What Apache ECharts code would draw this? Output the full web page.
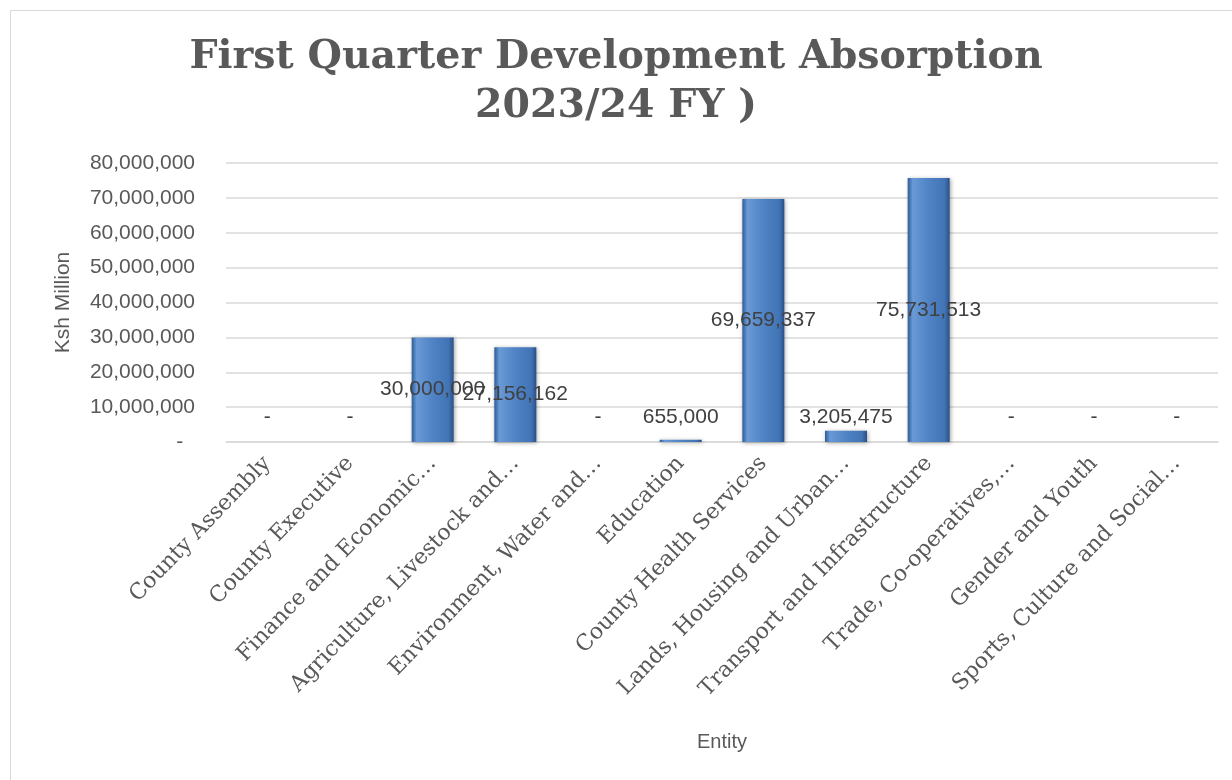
<!DOCTYPE html>
<html><head><meta charset="utf-8">
<script src="https://cdn.jsdelivr.net/npm/echarts@6/dist/echarts.min.js"></script>
<style>html,body{margin:0;padding:0;background:#fff}#c{width:1232px;height:780px}</style>
</head><body><div id="c"></div>
<script>
const categories = ["County Assembly","County Executive","Finance and Economic…","Agriculture, Livestock and…","Environment, Water and…","Education","County Health Services","Lands, Housing and Urban…","Transport and Infrastructure","Trade, Co-operatives,…","Gender and Youth","Sports, Culture and Social…"];
const values = [0,0,30000000,27156162,0,655000,69659337,3205475,75731513,0,0,0];
const yTicks = [0,10000000,20000000,30000000,40000000,50000000,60000000,70000000,80000000];
const titleLines = ["First Quarter Development Absorption","2023/24 FY )"];

const fmt = v => v === 0 ? '-' : v.toLocaleString('en-US');
const smallLimit = 10000000;
const barColor = new echarts.graphic.LinearGradient(0,0,1,0,[
  {offset:0,color:'#2d5c99'},{offset:0.12,color:'#6a9ad6'},{offset:0.5,color:'#4f83c5'},{offset:0.88,color:'#4274b5'},{offset:1,color:'#284f88'}]);

const chart = echarts.init(document.getElementById('c'));
chart.setOption({
  backgroundColor:'#fff',
  animation:false,
  title:{text:titleLines.join('\n'),left:'center',top:28,textStyle:{fontFamily:'DejaVu Serif',fontWeight:'bold',fontSize:39.5,color:'#595959',lineHeight:49}},
  graphic:[{type:'rect',shape:{x:10.5,y:10.5,width:1230,height:800},style:{fill:'none',stroke:'#d9d9d9',lineWidth:1},silent:true}],
  grid:{left:226,right:14,top:163,bottom:338},
  xAxis:{type:'category',data:categories,
    name:'Entity',nameLocation:'middle',nameGap:290,nameTextStyle:{fontFamily:'Liberation Sans',fontSize:20,color:'#595959'},
    axisLine:{lineStyle:{color:'#d9d9d9',width:1.5}},axisTick:{show:false},
    axisLabel:{rotate:46,interval:0,margin:18,fontFamily:'DejaVu Serif',fontSize:22,color:'#595959'}},
  yAxis:{type:'value',min:0,max:80000000,interval:10000000,
    name:'Ksh Million',nameLocation:'middle',nameGap:152,nameTextStyle:{fontFamily:'Liberation Sans',fontSize:21,color:'#595959'},
    axisLine:{show:false},axisTick:{show:false},
    splitLine:{lineStyle:{color:'#d9d9d9',width:1.5}},
    axisLabel:{margin:31,fontFamily:'Liberation Sans',fontSize:21,color:'#595959',formatter:v=>v===0?'-  ':fmt(v)}},
  series:[{type:'bar',barWidth:42,
    data:values.map(v=>({value:v,label:{position:v<smallLimit?'insideBottom':'inside',distance:14}})),
    itemStyle:{color:barColor,shadowColor:'rgba(0,0,0,0.35)',shadowBlur:4,shadowOffsetX:1,shadowOffsetY:1},
    label:{show:true,formatter:p=>fmt(p.value),fontFamily:'Liberation Sans',fontSize:21,color:'#404040'}}]
});
</script></body></html>
